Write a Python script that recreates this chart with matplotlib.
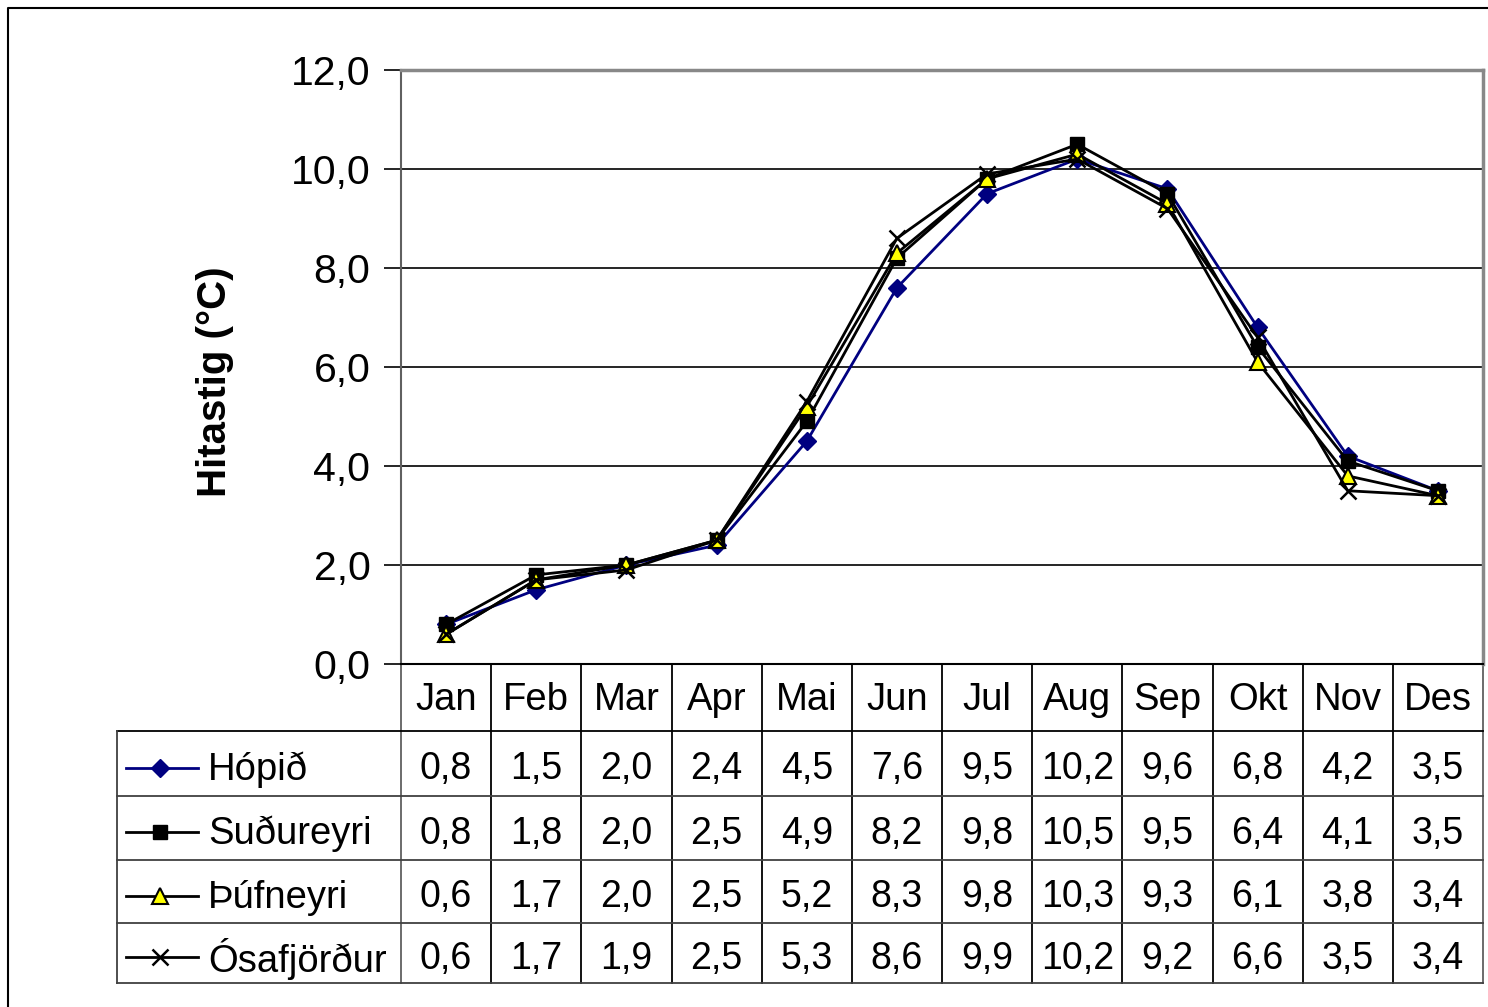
import numpy as np
import matplotlib.pyplot as plt
import matplotlib.transforms as mtransforms

plt.rcParams['font.family'] = ['Liberation Sans', 'DejaVu Sans']

months = ['Jan', 'Feb', 'Mar', 'Apr', 'Mai', 'Jun', 'Jul', 'Aug', 'Sep', 'Okt', 'Nov', 'Des']
hopid = [0.8, 1.5, 2.0, 2.4, 4.5, 7.6, 9.5, 10.2, 9.6, 6.8, 4.2, 3.5]
sudureyri = [0.8, 1.8, 2.0, 2.5, 4.9, 8.2, 9.8, 10.5, 9.5, 6.4, 4.1, 3.5]
thufneyri = [0.6, 1.7, 2.0, 2.5, 5.2, 8.3, 9.8, 10.3, 9.3, 6.1, 3.8, 3.4]
osafjordur = [0.6, 1.7, 1.9, 2.5, 5.3, 8.6, 9.9, 10.2, 9.2, 6.6, 3.5, 3.4]
names = ['Hópið', 'Suðureyri', 'Þúfneyri', 'Ósafjörður']
series = [hopid, sudureyri, thufneyri, osafjordur]
styles = [dict(color='#000080', marker='D', ms=9, mfc='#000080', mec='#000080'),
          dict(color='black', marker='s', ms=10, mfc='black', mec='black'),
          dict(color='black', marker='^', ms=11, mfc='#ffff00', mec='black', mew=1.5),
          dict(color='black', marker='x', ms=12, mec='black', mew=1.8)]

W, H = 1488, 1007
fig = plt.figure(figsize=(W / 100, H / 100), dpi=100)
L, R, T, B = 401, 1483, 70, 664
ax = fig.add_axes([L / W, 1 - B / H, (R - L) / W, (B - T) / H])

x = np.arange(len(months))
for vals, st, nm in zip(series, styles, names):
    ax.plot(x, vals, lw=2, label=nm, zorder=3, clip_on=False, **st)

ax.set_xlim(-0.5, 11.5)
ax.set_ylim(0, 12)
ax.set_yticks(np.arange(0, 12.1, 2))
ax.set_yticklabels([f'{v:.1f}'.replace('.', ',') for v in np.arange(0, 12.1, 2)], fontsize=29.5)
ax.set_xticks([])
ax.tick_params(axis='y', length=12, width=1.2, pad=10, color='black')
for y in np.arange(2, 12.1, 2):
    ax.axhline(y, color='black', lw=1.2, zorder=1)
ax.spines['left'].set_color('#606060')
ax.spines['left'].set_linewidth(1.5)
ax.spines['bottom'].set_color('black')
ax.spines['bottom'].set_linewidth(1.5)
ax.spines['top'].set_color('#888888')
ax.spines['top'].set_linewidth(2.5)
ax.spines['right'].set_color('#888888')
ax.spines['right'].set_linewidth(2.5)

fig.text(215 / W, 1 - 382 / H, 'Hitastig (°C)', rotation=90, fontsize=29,
         fontweight='bold', ha='center', va='center')

# data table below the plot
tr = mtransforms.blended_transform_factory(ax.transData, fig.transFigure)
def fy(py):
    return 1 - py / H
row_edges = [664, 731, 796, 860, 923, 983]
tl = 117 / W
for i, py in enumerate(row_edges[1:]):
    fig.add_artist(plt.Line2D([tl, R / W], [fy(py), fy(py)], color='#404040' if i > 0 else 'black', lw=1.3))
fig.add_artist(plt.Line2D([tl, tl], [fy(731), fy(983)], color='#404040', lw=1.3))
for i in range(13):
    xv = i - 0.5
    col = '#606060' if i in (0, 12) else 'black'
    ax.plot([xv, xv], [fy(664), fy(983)], transform=tr, color=col, lw=1.3, clip_on=False)

for i, m in enumerate(months):
    ax.text(i, fy((664 + 731) / 2 + 2), m, transform=tr, fontsize=27.5, ha='center', va='center')
for r, (vals, st, nm) in enumerate(zip(series, styles, names)):
    yc = fy((row_edges[r + 1] + row_edges[r + 2]) / 2 + 6)
    for i, v in enumerate(vals):
        ax.text(i, yc, f'{v:.1f}'.replace('.', ','), transform=tr, fontsize=27,
                ha='center', va='center')
    ly = fy((row_edges[r + 1] + row_edges[r + 2]) / 2 + 4)
    fig.add_artist(plt.Line2D([126 / W, 198 / W], [ly, ly], color=st['color'], lw=2))
    mk = dict(st)
    mk.pop('color')
    fig.add_artist(plt.Line2D([160 / W], [ly], color=st['color'], **mk))
    fig.text(208 / W, yc, nm, fontsize=27.5, ha='left', va='center')

# outer border
fig.add_artist(plt.Line2D([8 / W, 8 / W, 1 - 1 / W], [0, fy(8), fy(8)], color='black', lw=1.5))

fig.savefig('out.png', dpi=100)
